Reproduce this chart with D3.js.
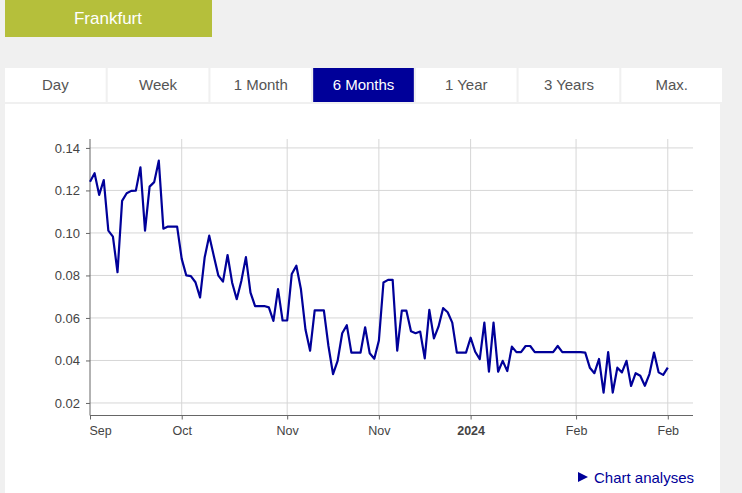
<!DOCTYPE html>
<html>
<head>
<meta charset="utf-8">
<script src="https://cdn.jsdelivr.net/npm/d3@7"></script>
<style>
  body { margin: 0; background: #f0f0f0; font-family: "Liberation Sans", Arial, sans-serif; }
  svg { display: block; }
</style>
</head>
<body>
<div id="chart"></div>
<script>
// exchange button + period tabs
var exchange = "Frankfurt";
var tabs = ["Day", "Week", "1 Month", "6 Months", "1 Year", "3 Years", "Max."];
var activeTab = "6 Months";

// daily prices, Sep 2023 - Feb 2024
var prices = [
  0.1241, 0.1281, 0.1179, 0.1249, 0.1011, 0.0983, 0.0815, 0.1151, 0.1187, 0.1198,
  0.1199, 0.1309, 0.1011, 0.1218, 0.1239, 0.1340, 0.1020, 0.1030, 0.1030, 0.1030,
  0.0878, 0.0800, 0.0797, 0.0768, 0.0696, 0.0884, 0.0987, 0.0892, 0.0799, 0.0771,
  0.0896, 0.0766, 0.0688, 0.0774, 0.0886, 0.0719, 0.0656, 0.0656, 0.0656, 0.0650,
  0.0586, 0.0736, 0.0588, 0.0588, 0.0807, 0.0846, 0.0735, 0.0544, 0.0446, 0.0636,
  0.0636, 0.0636, 0.0468, 0.0336, 0.0398, 0.0528, 0.0566, 0.0437, 0.0437, 0.0437,
  0.0556, 0.0434, 0.0408, 0.0494, 0.0767, 0.0779, 0.0779, 0.0446, 0.0634, 0.0634,
  0.0537, 0.0528, 0.0536, 0.0410, 0.0638, 0.0504, 0.0559, 0.0646, 0.0627, 0.0578,
  0.0437, 0.0437, 0.0437, 0.0507, 0.0441, 0.0406, 0.0578, 0.0347, 0.0578, 0.0347,
  0.0398, 0.0350, 0.0465, 0.0439, 0.0439, 0.0468, 0.0468, 0.0439, 0.0439, 0.0439,
  0.0439, 0.0439, 0.0468, 0.0439, 0.0439, 0.0439, 0.0439, 0.0439, 0.0437, 0.0366,
  0.0340, 0.0407, 0.0249, 0.0439, 0.0249, 0.0366, 0.0344, 0.0398, 0.0280, 0.0340,
  0.0328, 0.0281, 0.0336, 0.0437, 0.0344, 0.0332, 0.0366
];

// x tick labels and the data index they sit at
var xTickLabels = ["Sep", "Oct", "Nov", "Nov", "2024", "Feb", "Feb"];
var xTickIndex = [0, 20, 43, 63, 83, 106, 126];
var yTicks = [0.02, 0.04, 0.06, 0.08, 0.10, 0.12, 0.14];

var W = 742, H = 493;
var svg = d3.select("#chart").append("svg").attr("width", W).attr("height", H);

// exchange button
svg.append("rect").attr("x", 5).attr("y", 0).attr("width", 207).attr("height", 37).attr("fill", "#b5bf3b");
svg.append("text").attr("x", 108).attr("y", 24).attr("text-anchor", "middle")
  .attr("fill", "#fff").style("font-size", "17px").text(exchange);

// tabs
var tabX = d3.scaleBand().domain(tabs).range([5, 722]).paddingInner(0.02).paddingOuter(0);
var tabG = svg.append("g").selectAll("g").data(tabs).join("g")
  .attr("transform", d => `translate(${tabX(d)},68)`);
tabG.append("rect").attr("width", tabX.bandwidth()).attr("height", 34)
  .attr("fill", d => d === activeTab ? "#000099" : "#fff");
tabG.append("text").attr("x", tabX.bandwidth() / 2).attr("y", 22).attr("text-anchor", "middle")
  .attr("fill", d => d === activeTab ? "#fff" : "#555").style("font-size", "15px").text(d => d);

// chart panel
svg.append("rect").attr("x", 5).attr("y", 104).attr("width", 715).attr("height", H - 104).attr("fill", "#fff");

var x = d3.scaleLinear().domain([0, 131.5]).range([90, 693]);
var y = d3.scaleLinear().domain([0.0141, 0.1442]).range([415.5, 139]);

var grid = svg.append("g");
grid.selectAll("line.h").data(yTicks).join("line").attr("class", "h")
  .attr("x1", 90).attr("x2", 693).attr("y1", d => y(d)).attr("y2", d => y(d))
  .attr("stroke", "#d6d6d6");
grid.selectAll("line.v").data(xTickIndex.slice(1)).join("line").attr("class", "v")
  .attr("x1", d => x(d)).attr("x2", d => x(d)).attr("y1", 139).attr("y2", 415.5)
  .attr("stroke", "#d6d6d6");

// y axis
var yAxis = svg.append("g").attr("transform", "translate(90,0)")
  .call(d3.axisLeft(y).tickValues(yTicks).tickFormat(d3.format(".2f")).tickSize(4).tickPadding(6));
yAxis.select(".domain").attr("stroke", "#666").attr("d", "M0,139V415.5");
yAxis.selectAll(".tick line").attr("stroke", "#666");
yAxis.selectAll("text").attr("fill", "#444").style("font-size", "13px").style("font-family", "Liberation Sans, Arial, sans-serif");

// x axis
var xAxis = svg.append("g").attr("transform", "translate(0,415.5)")
  .call(d3.axisBottom(x).tickValues(xTickIndex).tickFormat((d, i) => xTickLabels[i]).tickSize(4).tickPadding(7));
xAxis.select(".domain").attr("stroke", "#666").attr("d", "M90,0H693");
xAxis.selectAll(".tick line").attr("stroke", "#666");
xAxis.selectAll("text").attr("fill", "#444").style("font-size", "12.5px")
  .style("font-family", "Liberation Sans, Arial, sans-serif")
  .style("font-weight", (d, i) => xTickLabels[i] === "2024" ? "bold" : "normal")
  .attr("text-anchor", (d, i) => i === 0 ? "start" : "middle")
  .attr("dx", (d, i) => i === 0 ? -1 : 0);

// price line
svg.append("path").datum(prices)
  .attr("fill", "none").attr("stroke", "#000099").attr("stroke-width", 2.2)
  .attr("stroke-linejoin", "round")
  .attr("d", d3.line().x((d, i) => x(i)).y(d => y(d)));

// chart analyses link
var link = svg.append("g").attr("fill", "#000099");
link.append("path").attr("d", "M578,472L588,477L578,482Z");
link.append("text").attr("x", 594).attr("y", 483).style("font-size", "15px").text("Chart analyses");
</script>
</body>
</html>
